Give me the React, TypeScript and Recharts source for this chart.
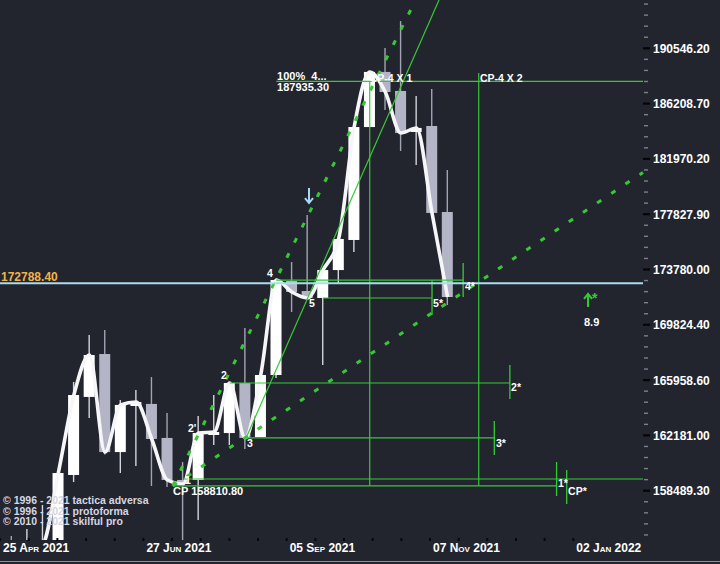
import React from 'react';
import { ComposedChart, Bar, Line, XAxis, YAxis, ReferenceLine, ReferenceDot } from 'recharts';

// weekly candles (oldest first)
const opens = [154000, 153200, 154400, 154950, 159530, 164800, 167770, 161060, 164180, 164320, 162010, 159200, 159200, 162210, 162340, 165760, 162070, 166310, 172950, 172230, 171730, 173740, 175930, 184400, 188680, 187190, 184020, 184480, 177990];
const highs = [155530, 155980, 157550, 159660, 165830, 169100, 169460, 164590, 165280, 166170, 163700, 160390, 163500, 164930, 165760, 169600, 166310, 173100, 174320, 177770, 173740, 176000, 184400, 188700, 190570, 192720, 186800, 187340, 181130];
const lows = [152500, 152800, 153900, 154500, 159060, 163360, 160900, 159660, 160130, 158800, 158730, 155000, 156570, 161530, 161530, 161270, 162070, 166100, 170730, 171730, 167010, 172810, 175050, 184400, 185710, 182570, 181510, 177920, 171230];
const closes = [153200, 154400, 154950, 159660, 164930, 167700, 161060, 164250, 164450, 161940, 159200, 158930, 162340, 162410, 165760, 162010, 166310, 173020, 172160, 171730, 173740, 176000, 184400, 188680, 187110, 183940, 184330, 177920, 171800];

const yTickValues = [158489.3, 162181.0, 165958.6, 169824.4, 173780.0, 177827.9, 181970.2, 186208.7, 190546.2];
const xTickLabels = ['25 Apr 2021', '27 Jun 2021', '05 Sep 2021', '07 Nov 2021', '02 Jan 2022'];

const lastPrice = 172788.4;

// horizontal levels: [price, from candle, to candle]
const levelLines = [
  [187935.3, 17, 40.55],
  [173020, 17, 29],
  [171730, 20, 27],
  [165760, 14, 32],
  [162010, 15, 31],
  [159263, 11, 40.55],
  [158810.8, 10.35, 35],
];
// short target markers: [candle, top price, bottom price]
const targetMarks = [
  [29, 174252, 171802],
  [27, 173022, 170519],
  [32, 167005, 164658],
  [31, 163156, 160863],
  [35, 160394, 158139],
  [35.65, 159861, 157614],
];
// vertical time lines: [candle, top price, bottom price]
const timeLines = [
  [23, 187935.3, 158810.8],
  [30, 188597, 158810.8],
];
const dashedTrends = [
  [[10.35, 158810.8], [25.95, 194417]],
  [[10.35, 158810.8], [40.55, 180950]],
];
const thinTrends = [[[15, 161870], [27.45, 194417]]];

const pivotLabels: [string, number, number][] = [
  ['4', 16.4, 173238],
  ['5', 19.1, 171088],
  ['2', 13.45, 166035],
  ["2'", 11.33, 162411],
  ['3', 15.12, 161400],
  ['1', 11.14, 158932],
  ['4*', 29.12, 172303],
  ['5*', 27.07, 171088],
  ['2*', 32.08, 165207],
  ['3*', 31.11, 161400],
  ['1*', 35.09, 158733],
  ['CP*', 35.74, 158206],
  ['CP-4 X 1', 23.0, 187891],
  ['CP-4 X 2', 30.08, 187891],
];
const infoLabels: [string, number, number][] = [
  ['100%  4...', 17.05, 188048],
  ['187935.30', 17.05, 187188],
  ['CP 158810.80', 10.37, 158206],
  ['8.9', 36.76, 169740],
];
const arrows: [number, number, string][] = [
  [19.1, 179180, 'down'],
  [37.02, 171590, 'up'],
];

const Y_DOMAIN = [155269, 194417];
const X_DOMAIN = [-0.745, 40.55];
const X_TICK0 = -0.74;
const X_TICK_STEP = 1.8407;

const BG = '#22252e';
const GREEN = '#36c936';
const FONT = '"Liberation Sans", Arial, sans-serif';

const candles = opens.map((o, i) => ({
  i,
  open: o,
  high: highs[i],
  low: lows[i],
  close: closes[i],
  range: [lows[i], highs[i]],
}));

const xTicks = Array.from({ length: 21 }, (_, j) => X_TICK0 + j * X_TICK_STEP);

// 4 minor ticks between major ticks (equal steps on the log scale)
const yTicks = (() => {
  const out: number[] = [];
  const r = yTickValues[1] / yTickValues[0];
  for (let j = 1; j < 5; j++) out.push(yTickValues[0] / Math.pow(r, j / 5));
  yTickValues.forEach((v, n) => {
    out.push(v);
    const next = n < yTickValues.length - 1 ? yTickValues[n + 1] : v * r;
    const rr = next / v;
    for (let j = 1; j < 5; j++) out.push(v * Math.pow(rr, j / 5));
  });
  return out.filter((v) => v > Y_DOMAIN[0] && v < Y_DOMAIN[1]).sort((a, b) => a - b);
})();

const Candle = (props: any) => {
  const { x, y, width, height, payload } = props;
  if (x == null || y == null) return null;
  const top = Math.min(y, y + height);
  const bot = Math.max(y, y + height);
  const lh = Math.log(payload.high);
  const ll = Math.log(payload.low);
  const toPx = (v: number) => top + ((lh - Math.log(v)) / (lh - ll)) * (bot - top);
  const up = payload.close >= payload.open;
  const cx = x + width / 2;
  let bt = toPx(Math.max(payload.open, payload.close));
  let bb = toPx(Math.min(payload.open, payload.close));
  if (bb - bt < 3) {
    const m = (bt + bb) / 2;
    bt = m - 1.5;
    bb = m + 1.5;
  }
  return (
    <g>
      <line x1={cx} x2={cx} y1={top} y2={bot} stroke={up ? '#d4d4dc' : '#a2a4b4'} strokeWidth={1.4} />
      <rect x={x} y={bt} width={width} height={bb - bt} fill={up ? '#ffffff' : '#b3b5c7'} />
    </g>
  );
};

const XTick = ({ x, y, payload }: any) => {
  const j = Math.round((payload.value - X_TICK0) / X_TICK_STEP);
  const label = j % 5 === 0 ? xTickLabels[j / 5] : null;
  return (
    <g>
      <rect x={x - 1} y={y - 2} width={2} height={3} fill="#08080a" />
      {label && (
        <text x={x + 3} y={y + 12} fill="#ffffff" fontSize={12} fontWeight="bold" fontFamily={FONT} style={{ fontVariant: 'small-caps' }}>
          {label}
        </text>
      )}
    </g>
  );
};

const YTick = ({ x, y, payload }: any) => {
  const major = yTickValues.some((v) => Math.abs(v - payload.value) < 0.5);
  if (!major) return <line x1={x + 1} x2={x + 5} y1={y} y2={y} stroke="#7d808c" strokeWidth={1.4} />;
  return (
    <g>
      <line x1={x} x2={x + 7} y1={y} y2={y} stroke="#050507" strokeWidth={2.2} />
      <text x={x + 10} y={y + 4.5} fill="#ffffff" fontSize={12} fontWeight="bold" fontFamily={FONT}>
        {payload.value.toFixed(2)}
      </text>
    </g>
  );
};

const textShape = (text: string, size: number, color: string) => (p: any) => (
  <text x={p.cx} y={p.cy} fill={color} fontSize={size} fontWeight="bold" fontFamily={FONT} style={{ whiteSpace: 'pre' }}>
    {text}
  </text>
);

const arrowShape = (dir: string) => (p: any) => {
  const { cx, cy } = p;
  if (dir === 'down') {
    return (
      <g stroke="#a9d9f6" strokeWidth={2} fill="none">
        <line x1={cx} x2={cx} y1={cy - 8} y2={cy + 7} />
        <polyline points={`${cx - 4},${cy + 2} ${cx},${cy + 7} ${cx + 4},${cy + 2}`} />
      </g>
    );
  }
  return (
    <g>
      <g stroke={GREEN} strokeWidth={2} fill="none">
        <line x1={cx} x2={cx} y1={cy + 7} y2={cy - 6} />
        <polyline points={`${cx - 4},${cy - 1} ${cx},${cy - 6} ${cx + 4},${cy - 1}`} />
      </g>
      <text x={cx + 4} y={cy + 3} fill={GREEN} fontSize={14} fontWeight="bold" fontFamily={FONT}>
        *
      </text>
    </g>
  );
};

export default function App() {
  return (
    <div style={{ position: 'relative', width: 720, height: 564, background: BG, overflow: 'hidden' }}>
      <style>{`body{margin:0;background:${BG}}`}</style>
      <ComposedChart width={720} height={564} data={candles} margin={{ top: 0, right: 0, bottom: 0, left: 0 }}>
        <XAxis
          dataKey="i"
          type="number"
          domain={X_DOMAIN}
          allowDataOverflow
          ticks={xTicks}
          interval={0}
          tick={<XTick />}
          tickLine={false}
          axisLine={false}
          tickSize={0}
          tickMargin={0}
          height={24}
        />
        <YAxis
          orientation="right"
          type="number"
          scale="log"
          domain={Y_DOMAIN}
          allowDataOverflow
          ticks={yTicks}
          interval={0}
          tick={<YTick />}
          tickLine={false}
          axisLine={false}
          tickSize={0}
          tickMargin={0}
          width={77}
        />
        <Bar dataKey="range" barSize={11} shape={<Candle />} isAnimationActive={false} />
        <Line dataKey="close" type="monotone" stroke="#f6f6f8" strokeWidth={3.6} dot={false} isAnimationActive={false} strokeLinejoin="round" />

        {timeLines.map(([x, y1, y2], k) => (
          <ReferenceLine key={`t${k}`} segment={[{ x, y: y1 }, { x, y: y2 }]} stroke={GREEN} strokeWidth={1.2} ifOverflow="visible" />
        ))}
        {levelLines.map(([y, x1, x2], k) => (
          <ReferenceLine key={`l${k}`} segment={[{ x: x1, y }, { x: x2, y }]} stroke={GREEN} strokeWidth={1.2} ifOverflow="visible" />
        ))}
        {targetMarks.map(([x, y1, y2], k) => (
          <ReferenceLine key={`m${k}`} segment={[{ x, y: y1 }, { x, y: y2 }]} stroke={GREEN} strokeWidth={1.3} ifOverflow="visible" />
        ))}
        {thinTrends.map(([a, b], k) => (
          <ReferenceLine key={`n${k}`} segment={[{ x: a[0], y: a[1] }, { x: b[0], y: b[1] }]} stroke={GREEN} strokeWidth={1.2} ifOverflow="visible" />
        ))}
        {dashedTrends.map(([a, b], k) => (
          <ReferenceLine
            key={`d${k}`}
            segment={[{ x: a[0], y: a[1] }, { x: b[0], y: b[1] }]}
            stroke={GREEN}
            strokeWidth={3}
            strokeDasharray="5 12"
            ifOverflow="visible"
          />
        ))}
        <ReferenceLine y={lastPrice} stroke="#a9dcf1" strokeWidth={2} />

        <ReferenceDot x={-0.68} y={172950} ifOverflow="visible" shape={textShape(lastPrice.toFixed(2), 12, '#f2b24a')} />
        {pivotLabels.map(([t, x, y], k) => (
          <ReferenceDot key={`p${k}`} x={x} y={y} ifOverflow="visible" shape={textShape(t, 10.5, '#ffffff')} />
        ))}
        {infoLabels.map(([t, x, y], k) => (
          <ReferenceDot key={`i${k}`} x={x} y={y} ifOverflow="visible" shape={textShape(t, 11, '#ffffff')} />
        ))}
        {arrows.map(([x, y, dir], k) => (
          <ReferenceDot key={`a${k}`} x={x} y={y} ifOverflow="visible" shape={arrowShape(dir)} />
        ))}
      </ComposedChart>
      <div
        style={{
          position: 'absolute',
          left: 3,
          top: 495,
          color: '#d6d6e2',
          fontFamily: FONT,
          fontWeight: 'bold',
          fontSize: 10.5,
          lineHeight: '10.6px',
          pointerEvents: 'none',
        }}
      >
        <div>© 1996 - 2021 tactica adversa</div>
        <div>© 1996 - 2021 protoforma</div>
        <div>© 2010 - 2021 skilful pro</div>
      </div>
      <div style={{ position: 'absolute', left: 0, top: 561, width: 720, height: 1, background: '#8592a4' }} />
    </div>
  );
}
